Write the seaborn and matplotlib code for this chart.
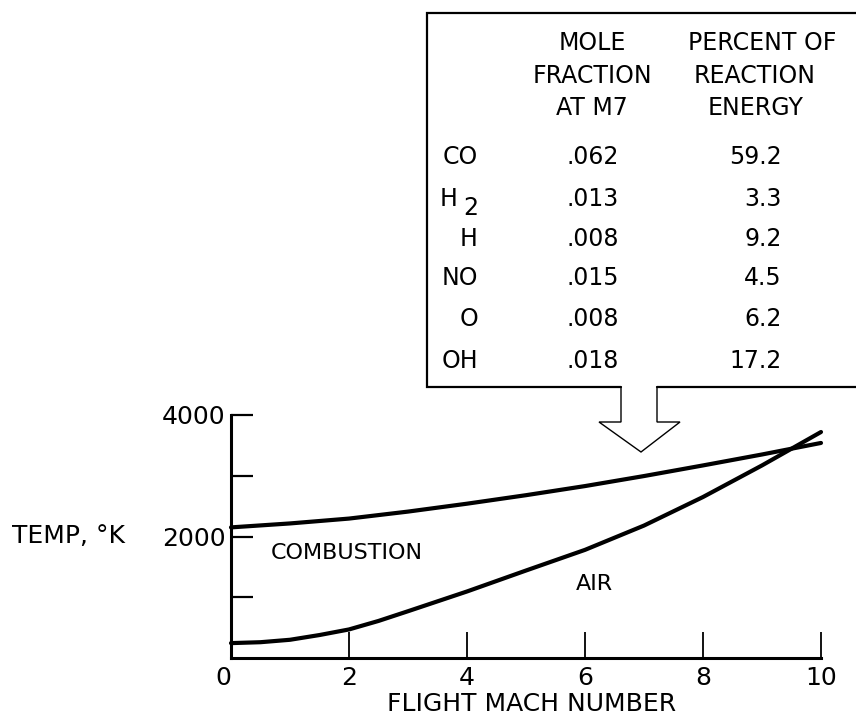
import matplotlib
matplotlib.use("Agg")
import matplotlib.pyplot as plt
import seaborn as sns
import pandas as pd

# ---- data ----
comb_mach = [0, 1, 2, 3, 4, 5, 6, 7, 8, 9, 10]
combustion_temp = [2150, 2215, 2295, 2410, 2540, 2680, 2830, 2995, 3170, 3350, 3540]
air_mach = [0, 0.5, 1, 1.5, 2, 2.5, 3, 4, 5, 6, 7, 8, 9, 10]
air_temp = [245, 260, 300, 378, 470, 610, 770, 1095, 1440, 1780, 2180, 2650, 3170, 3720]

species = ["CO", "H", "NO", "O", "OH"]
species_rows = [0, 2, 3, 4, 5]
mole_fraction = [".062", ".013", ".008", ".015", ".008", ".018"]
percent_energy = ["59.2", "3.3", "9.2", "4.5", "6.2", "17.2"]

x_ticks = [0, 2, 4, 6, 8, 10]
x_tick_labels = ["0", "2", "4", "6", "8", "10"]
y_ticks = [1000, 2000, 3000, 4000]
y_tick_labels = ["", "2000", "", "4000"]

df = pd.DataFrame({
    "mach": comb_mach + air_mach,
    "temp": combustion_temp + air_temp,
    "series": ["COMBUSTION"] * len(comb_mach) + ["AIR"] * len(air_mach),
})

sns.set_theme(style="ticks")
plt.rcParams["font.family"] = ["DejaVu Sans"]
plt.rcParams["text.color"] = "black"
plt.rcParams["axes.labelcolor"] = "black"
plt.rcParams["xtick.color"] = "black"
plt.rcParams["ytick.color"] = "black"
FS = 16      # curve labels
FS_AX = 18   # tick and axis labels
FS_T = 17    # table

W, H = 856, 717
fig = plt.figure(figsize=(W / 100, H / 100), dpi=100)
fig.patch.set_facecolor("white")

# main axes placed by pixel geometry
x0, x1, y0, y1 = 231, 821, 658, 415
ax = fig.add_axes([x0 / W, (H - y0) / H, (x1 - x0) / W, (y0 - y1) / H])
ax.set_facecolor("none")

sns.lineplot(data=df, x="mach", y="temp", hue="series",
             palette={"COMBUSTION": "black", "AIR": "black"},
             linewidth=3.0, legend=False, ax=ax, clip_on=False)

ax.set_xlim(0, 10)
ax.set_ylim(0, 4000)
sns.despine(ax=ax)
for s in ["left", "bottom"]:
    ax.spines[s].set_linewidth(2.2)
    ax.spines[s].set_color("black")

ax.set_xticks(x_ticks)
ax.set_xticklabels(x_tick_labels, fontsize=FS_AX)
ax.set_yticks(y_ticks)
ax.set_yticklabels(y_tick_labels, fontsize=FS_AX)
ax.tick_params(axis="x", direction="in", length=19, width=1.3, pad=6, colors="black")
ax.tick_params(axis="y", direction="in", length=16, width=1.6, pad=4, colors="black")
ax.get_xticklabels()[0].set_ha("right")

ax.set_xlabel("FLIGHT MACH NUMBER", fontsize=FS_AX, color="black")
ax.xaxis.set_label_coords(0.51, -0.14)
ax.set_ylabel("TEMP, °K", fontsize=FS_AX, rotation=0, ha="right", va="center", color="black")
ax.yaxis.set_label_coords(-0.18, 0.5)

ax.text(1.96, 1735, "COMBUSTION", fontsize=FS, ha="center", va="center")
ax.text(6.16, 1223, "AIR", fontsize=FS, ha="center", va="center")

# overlay in pixel coordinates for the inset table and arrow
ov = fig.add_axes([0, 0, 1, 1])
ov.set_xlim(0, W)
ov.set_ylim(H, 0)
ov.axis("off")
ov.patch.set_alpha(0)

box_x = [870, 427, 427, 621]
box_y = [13, 13, 387, 387]
ov.plot(box_x, box_y, color="black", lw=1.6, solid_joinstyle="miter")
ov.plot([657, 870], [387, 387], color="black", lw=1.6)
arrow_x = [621, 621, 599, 641, 680, 657, 657]
arrow_y = [387, 422, 422, 452, 422, 422, 387]
ov.plot(arrow_x, arrow_y, color="black", lw=1.0, solid_joinstyle="miter")

# headers
for txt, yy in [("MOLE", 43), ("FRACTION", 76), ("AT M7", 108)]:
    ov.text(592, yy, txt, fontsize=FS_T, ha="center", va="center")
for txt, xx, yy in [("PERCENT OF", 762, 43), ("REACTION", 755, 76), ("ENERGY", 756, 108)]:
    ov.text(xx, yy, txt, fontsize=FS_T, ha="center", va="center")

row_y = [157, 199, 239, 278, 319, 361]
for name, r in zip(species, species_rows):
    ov.text(478, row_y[r], name, fontsize=FS_T, ha="right", va="center")
ov.text(440, row_y[1], "H", fontsize=FS_T, ha="left", va="center")
ov.text(478, row_y[1] + 9, "2", fontsize=FS_T, ha="right", va="center")

for i, yy in enumerate(row_y):
    ov.text(567, yy, mole_fraction[i], fontsize=FS_T, ha="left", va="center")
    ov.text(782, yy, percent_energy[i], fontsize=FS_T, ha="right", va="center")

fig.savefig("out.png", dpi=100, facecolor="white")
